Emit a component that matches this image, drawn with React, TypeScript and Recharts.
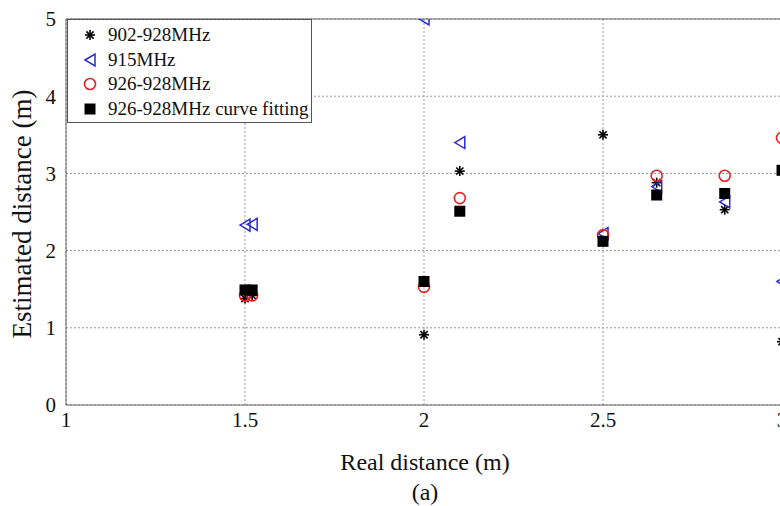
import React from "react";
import {
  ScatterChart,
  Scatter,
  XAxis,
  YAxis,
  CartesianGrid,
  ReferenceLine,
  Legend,
} from "recharts";

// real distance (m) of each test position
const realDist = [1.5, 1.52, 2.0, 2.1, 2.5, 2.65, 2.84, 3.0];

// estimated distance (m) per band
const est902 = [1.38, 1.42, 0.91, 3.03, 3.5, 2.88, 2.53, 0.82];
const est915 = [2.33, 2.34, 5.0, 3.4, 2.22, 2.83, 2.63, 1.6];
const est926 = [1.42, 1.42, 1.53, 2.68, 2.2, 2.97, 2.97, 3.46];
const estFit = [1.49, 1.49, 1.6, 2.51, 2.12, 2.72, 2.74, 3.04];

const xTicks = [1, 1.5, 2, 2.5, 3];
const yTicks = [0, 1, 2, 3, 4, 5];

const seriesNames = ["902-928MHz", "915MHz", "926-928MHz", "926-928MHz curve fitting"];

const toPoints = (ys: number[]) => realDist.map((x, i) => ({ x, y: ys[i] }));

const FONT = '"Liberation Serif", "Times New Roman", serif';
const BLUE = "#2b2bd0";
const RED = "#e52222";

const Asterisk = ({ cx, cy }: any) => {
  const r = 5;
  const d = r * 0.72;
  return (
    <g stroke="#000" strokeWidth={1.6}>
      <line x1={cx - r} y1={cy} x2={cx + r} y2={cy} />
      <line x1={cx} y1={cy - r} x2={cx} y2={cy + r} />
      <line x1={cx - d} y1={cy - d} x2={cx + d} y2={cy + d} />
      <line x1={cx - d} y1={cy + d} x2={cx + d} y2={cy - d} />
    </g>
  );
};

const TriLeft = ({ cx, cy }: any) => (
  <path
    d={`M${cx - 5},${cy} L${cx + 5},${cy - 6} L${cx + 5},${cy + 6} Z`}
    fill="none"
    stroke={BLUE}
    strokeWidth={1.5}
  />
);

const Ring = ({ cx, cy }: any) => (
  <circle cx={cx} cy={cy} r={5.5} fill="none" stroke={RED} strokeWidth={1.6} />
);

const Block = ({ cx, cy }: any) => (
  <rect x={cx - 5.5} y={cy - 5.5} width={11} height={11} fill="#000" />
);

const markers = [Asterisk, TriLeft, Ring, Block];

const renderLegend = () => (
  <div
    style={{
      width: 245,
      height: 104,
      boxSizing: "border-box",
      border: "1px solid #555",
      background: "#fff",
      paddingTop: 3,
    }}
  >
    {seriesNames.map((name, i) => {
      const M = markers[i];
      return (
        <div
          key={name}
          style={{ display: "flex", alignItems: "center", height: 24.5, fontFamily: FONT, fontSize: 19, color: "#111" }}
        >
          <svg width={40} height={20} style={{ flex: "none" }}>
            <M cx={22} cy={10} />
          </svg>
          <span style={{ whiteSpace: "nowrap" }}>{name}</span>
        </div>
      );
    })}
  </div>
);

export default function App() {
  const tick = { fill: "#111", fontSize: 21, fontFamily: FONT };
  return (
    <div style={{ position: "absolute", left: 0, top: 0, width: 780, height: 506, overflow: "hidden", background: "#fff" }}>
      <ScatterChart width={800} height={506} margin={{ top: 19, right: 18, bottom: 71, left: 0 }}>
        <CartesianGrid stroke="#999" strokeDasharray="2 2" />
        <XAxis
          type="number"
          dataKey="x"
          domain={[1, 3]}
          ticks={xTicks}
          height={30}
          stroke="#666"
          tickLine={false}
          tick={tick}
          tickMargin={1}
          allowDataOverflow
        />
        <YAxis
          type="number"
          dataKey="y"
          domain={[0, 5]}
          ticks={yTicks}
          width={66}
          stroke="#666"
          tickLine={false}
          tick={tick}
          tickMargin={4}
          allowDataOverflow
        />
        <ReferenceLine y={5} stroke="#666" />
        <ReferenceLine x={3} stroke="#666" />
        <Legend
          layout="horizontal"
          align="center"
          verticalAlign="middle"
          content={renderLegend}
          wrapperStyle={{ top: 19, left: 67, width: 245, height: 104 }}
        />
        <Scatter name={seriesNames[0]} data={toPoints(est902)} shape={Asterisk} isAnimationActive={false} />
        <Scatter name={seriesNames[1]} data={toPoints(est915)} shape={TriLeft} isAnimationActive={false} />
        <Scatter name={seriesNames[2]} data={toPoints(est926)} shape={Ring} isAnimationActive={false} />
        <Scatter name={seriesNames[3]} data={toPoints(estFit)} shape={Block} isAnimationActive={false} />
      </ScatterChart>
      <div
        style={{
          position: "absolute",
          left: 22,
          top: 214,
          transform: "translate(-50%, -50%) rotate(-90deg)",
          whiteSpace: "nowrap",
          fontFamily: FONT,
          fontSize: 27,
          color: "#111",
        }}
      >
        Estimated distance (m)
      </div>
      <div
        style={{
          position: "absolute",
          left: 425,
          top: 462,
          transform: "translate(-50%, -50%)",
          whiteSpace: "nowrap",
          fontFamily: FONT,
          fontSize: 24,
          color: "#111",
        }}
      >
        Real distance (m)
      </div>
      <div
        style={{
          position: "absolute",
          left: 425,
          top: 492,
          transform: "translate(-50%, -50%)",
          fontFamily: FONT,
          fontSize: 24,
          color: "#111",
        }}
      >
        (a)
      </div>
    </div>
  );
}
